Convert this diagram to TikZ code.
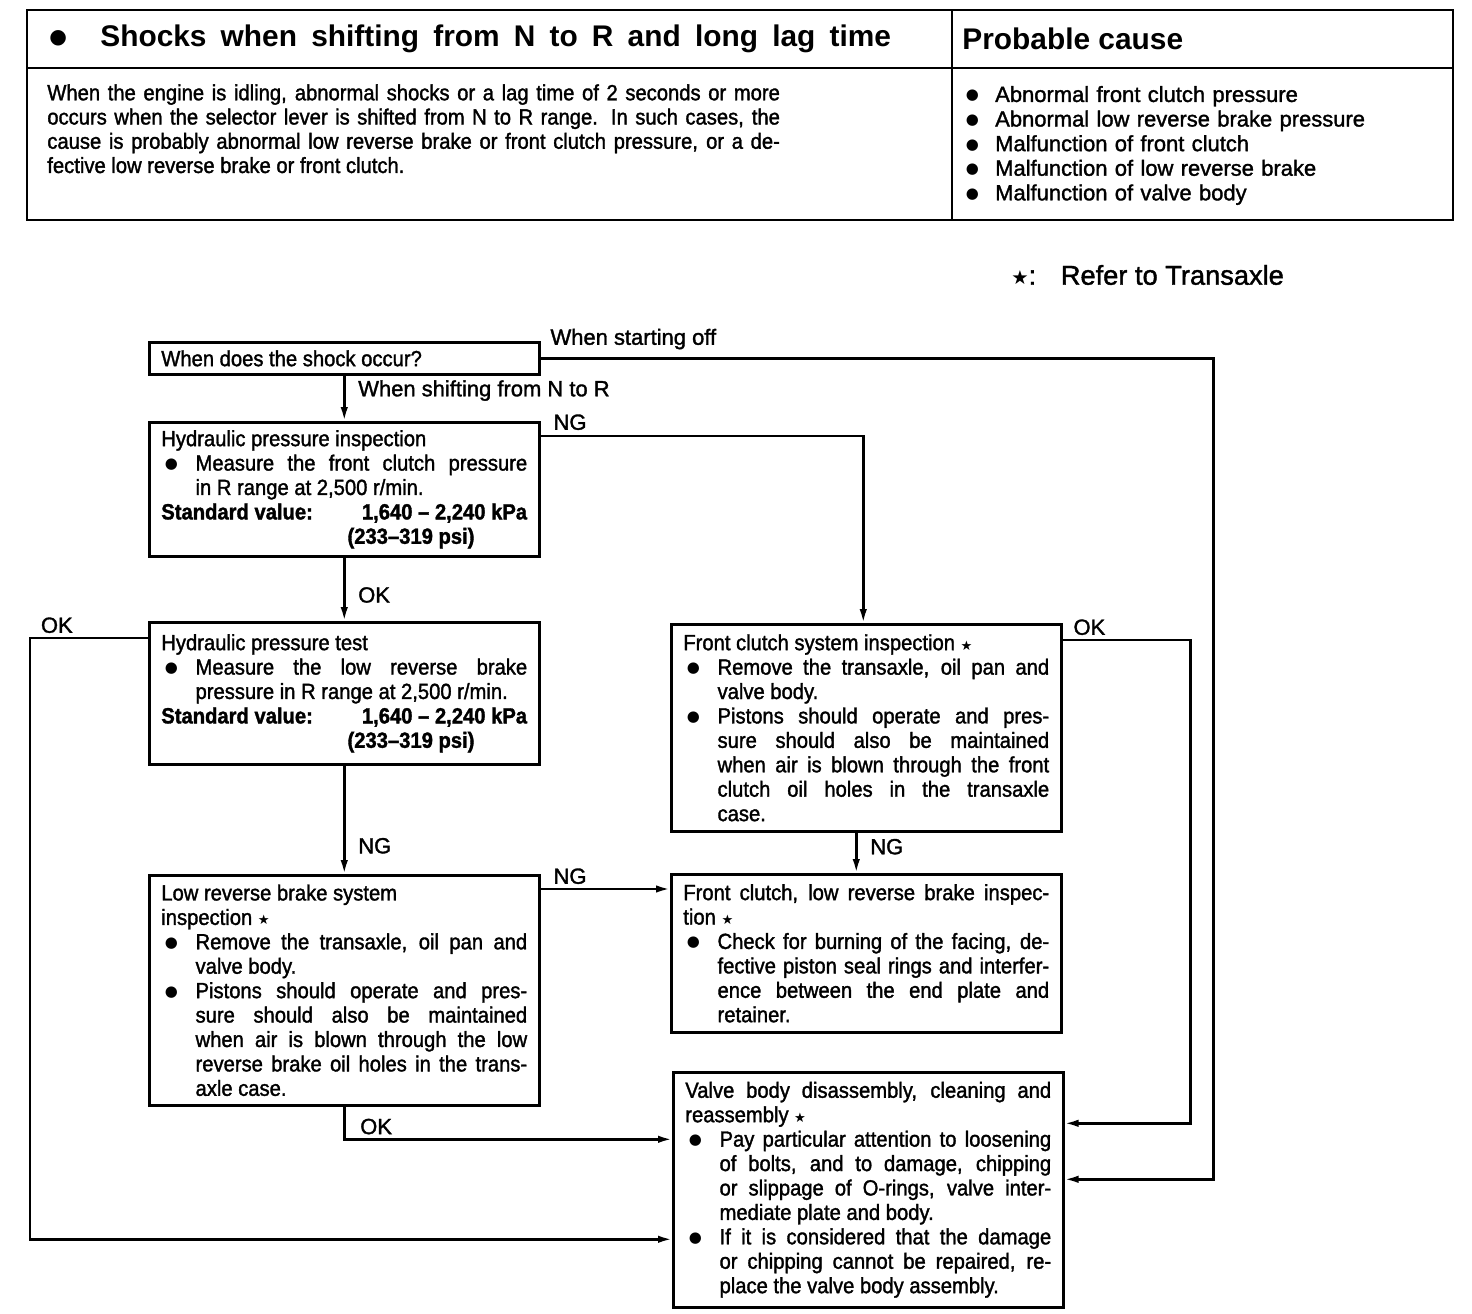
\documentclass[tikz,border=0pt]{standalone}
\usepackage{fontspec}
\setmainfont{Liberation Sans}
\newfontfamily\condfont{Liberation Sans}[FakeStretch=0.92, FakeBold=1.5]
\newfontfamily\lblfam{Liberation Sans}[FakeBold=1.5]
\newfontfamily\symfont{DejaVu Sans}
\usetikzlibrary{arrows.meta}

\newcommand{\boxfont}{\condfont\fontsize{12.5}{13.9}\selectfont}
\newcommand{\lblfont}{\lblfam\fontsize{12.5}{14}\selectfont}
\newcommand{\headfont}{\fontsize{17}{20}\selectfont\bfseries}
\newcommand{\dotb}{\raisebox{1.2pt}{\symfont\fontsize{8.5}{8}\selectfont ●}}
\newcommand{\itm}{\par\noindent\hangindent=19.5pt\hangafter=1\makebox[19.5pt][l]{\hspace{2pt}\dotb}}
\newcommand{\itmc}{\par\noindent\hangindent=18.7pt\hangafter=1\makebox[18.7pt][l]{\hspace{2pt}\dotb}}
\newcommand{\stdval}{\par\noindent\makebox[\hsize]{\textbf{Standard value:}\hfill\textbf{1,640 – 2,240 kPa}}\par\noindent\hspace*{106pt}\textbf{(233–319 psi)}\par}
\newcommand{\rstar}{ {\symfont\fontsize{7.5}{8}\selectfont ★}}

\begin{document}
\begin{tikzpicture}[x=0.02cm, y=-0.02cm,
            box/.style={rectangle, draw, line width=1.5pt, anchor=north west, text width=7.32cm, inner xsep=0.24cm, inner ysep=3pt, align=justify, font=\boxfont},
            lbl/.style={font=\lblfont, inner sep=1pt},
            arrow/.style={-{Latex[length=0.28cm,width=0.15cm]}, line width=1.4pt},
            tbl/.style={line width=1.4pt}
        ]
        \useasboundingbox (0,0) rectangle (1472,1314);

        % Table
        \draw[tbl] (27,10) rectangle (1453,220);
        \draw[tbl] (27,68) -- (1453,68);
        \draw[tbl] (952,10) -- (952,220);
        \node[anchor=west, inner sep=0] (hbul) at (49,38) {\symfont\fontsize{11.5}{12}\selectfont ●};
        \node[anchor=west, inner sep=0] (htitle) at (100,39) {\headfont\makebox[450pt][s]{Shocks when shifting from N to R and long lag time}};
        \node[anchor=west, inner sep=0] (hcause) at (962,39) {\headfont Probable cause};
        \node[anchor=north west, inner sep=0, text width=417pt, align=justify, font=\condfont\fontsize{12.5}{13.8}\selectfont] (desc) at (47,84) {When the engine is idling, abnormal shocks or a lag time of 2 seconds or more\linebreak occurs when the selector lever is shifted from N to R range.  In such cases, the\linebreak cause is probably abnormal low reverse brake or front clutch pressure, or a de-\linebreak fective low reverse brake or front clutch.\par};
        \node[anchor=north west, inner sep=0, text width=400pt, align=left, font=\lblfam\fontsize{12.5}{14}\selectfont] (causes) at (962,77) {\itmc Abnormal front clutch pressure\itmc Abnormal low reverse brake pressure\itmc Malfunction of front clutch\itmc Malfunction of low reverse brake\itmc Malfunction of valve body\par};

        % Note
        \node[anchor=west, inner sep=0, font=\lblfam\fontsize{15.5}{18}\selectfont] (note) at (1011,275) {{\symfont\fontsize{11}{12}\selectfont ★}:\hspace{14pt}Refer to Transaxle};

        % Boxes
        \node[box, minimum height=0.64cm] (q) at (148,341) {When does the shock occur?};
        \node[box, minimum height=2.68cm] (hp1) at (148,421) {Hydraulic pressure inspection\itm Measure the front clutch pressure\linebreak in R range at 2,500 r/min.\stdval};
        \node[box, minimum height=2.84cm] (hp2) at (148,621) {Hydraulic pressure test\itm Measure the low reverse brake\linebreak pressure in R range at 2,500 r/min.\stdval};
        \node[box, minimum height=4.6cm] (lrb) at (148,874) {Low reverse brake system\\inspection\rstar\itm Remove the transaxle, oil pan and\linebreak valve body.\itm Pistons should operate and pres-\linebreak sure should also be maintained\linebreak when air is blown through the low\linebreak reverse brake oil holes in the trans-\linebreak axle case.\par};
        \node[box, minimum height=4.14cm] (fcs) at (670,623) {Front clutch system inspection\rstar\itm Remove the transaxle, oil pan and\linebreak valve body.\itm Pistons should operate and pres-\linebreak sure should also be maintained\linebreak when air is blown through the front\linebreak clutch oil holes in the transaxle\linebreak case.\par};
        \node[box, minimum height=3.16cm] (fcl) at (670,873) {Front clutch, low reverse brake inspec-\linebreak tion\rstar\itm Check for burning of the facing, de-\linebreak fective piston seal rings and interfer-\linebreak ence between the end plate and\linebreak retainer.\par};
        \node[box, minimum height=4.7cm] (vb) at (672,1071) {Valve body disassembly, cleaning and\linebreak reassembly\rstar\itm Pay particular attention to loosening\linebreak of bolts, and to damage, chipping\linebreak or slippage of O-rings, valve inter-\linebreak mediate plate and body.\itm If it is considered that the damage\linebreak or chipping cannot be repaired, re-\linebreak place the valve body assembly.\par};

        % Arrows
        \draw[arrow] (q.east) -- node[lbl, above right, pos=0, xshift=0.14cm, yshift=0.12cm] (lstart) {When starting off} ++(673,0) |- ([yshift=0.21cm]vb.east);
        \draw[arrow] (q) -- node[lbl, right, pos=0.33, xshift=0.22cm] (lshift) {When shifting from N to R} (hp1);
        \draw[arrow] ([yshift=-0.3cm]hp1.north east) -- node[lbl, above right, pos=0, xshift=0.2cm, yshift=0.06cm] (lng1) {NG} ++(0,0) -| ([xshift=-0.06cm]fcs.north);
        \draw[arrow] (hp1) -- node[lbl, right, pos=0.59, xshift=0.22cm] (lok1) {OK} (hp2);
        \draw[arrow] ([yshift=-0.34cm]hp2.north west) -- ++(-118,0) node[lbl, above right, xshift=0.16cm, yshift=0.04cm] (lok2) {OK} |- ([yshift=-0.99cm]vb.west);
        \draw[arrow] (hp2) -- node[lbl, right, pos=0.74, xshift=0.22cm] (lng2) {NG} (lrb);
        \draw[arrow] ([yshift=-0.3cm]lrb.north east) coordinate (lrbout) -- node[lbl, above right, pos=0, xshift=0.2cm, yshift=0.04cm] (lng3) {NG} (lrbout -| fcl.west);
        \draw[arrow] (lrb.south) |- node[lbl, above right, pos=0.5, xshift=0.26cm, yshift=0.04cm] (lok3) {OK} ([yshift=1.01cm]vb.west);
        \draw[arrow] ([xshift=-0.2cm]fcs.south) coordinate (fcsout) -- node[lbl, right, pos=0.35, xshift=0.22cm] (lng4) {NG} (fcsout |- fcl.north);
        \draw[arrow] ([yshift=-0.34cm]fcs.north east) -- node[lbl, above right, pos=0, xshift=0.16cm, yshift=0.04cm] (lok4) {OK} ++(128,0) |- ([yshift=1.33cm]vb.east);

        \end{tikzpicture}
\end{document}
